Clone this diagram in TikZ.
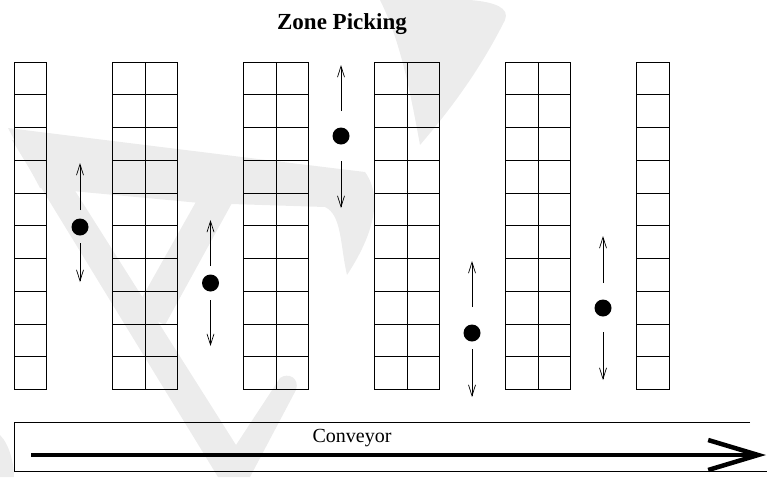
\documentclass[tikz,border=0pt]{standalone}
\usepackage{fontspec}
\setmainfont{Liberation Serif}
\usetikzlibrary{arrows.meta}

\tikzset{
  rack/.style={line width=0.8pt, step=1},
  picker/.style={circle, fill=black, minimum size=17pt, inner sep=0pt},
  move/.style={line width=0.7pt, -{Straight Barb[length=11pt,width=7pt]}},
  belt/.style={line width=4.5pt, -{Straight Barb[length=50pt,width=30pt]}},
  wmark/.style={fill=gray!15}
}

\begin{document}
\begin{tikzpicture}[x=1pt,y=-1pt]
\path[use as bounding box] (0,0) rectangle (767,477);

% watermark in the background
\fill[wmark] (8,128) -- (250,158) -- (365,172)
  .. controls (385,200) and (370,240) .. (347,275)
  .. controls (340,245) and (342,215) .. (325,207) -- (200,203) -- (40,188) -- cycle;
\fill[wmark] (12,140) -- (48,148) -- (236,445) -- (280,378)
  .. controls (288,372) and (300,378) .. (296,390) -- (250,477) -- (218,477) -- cycle;
\fill[wmark] (197,200) -- (232,203) -- (165,325) -- (135,310) -- cycle;
\fill[wmark] (380,0) -- (470,0) .. controls (495,2) and (510,8) .. (505,20)
  .. controls (480,70) and (450,110) .. (420,145)
  .. controls (410,90) and (400,40) .. cycle;
\fill[wmark] (0,435) .. controls (10,445) and (14,465) .. (14,477) -- (0,477) -- cycle;

\node[anchor=base, font=\fontsize{23}{27}\selectfont\bfseries] (title) at (342,29) {Zone Picking};

% racks, one unit = one shelf cell
\begin{scope}[shift={(14,389.5)}, x=32.75pt, y=32.75pt]
  \draw[rack] (0,0) grid (1,10);
  \foreach \x in {3,7,11,15}{
    \draw[rack] (\x,0) grid ++(2,10);
  }
  \draw[rack] (19,0) grid (20,10);
\end{scope}

% pickers in the aisles
\foreach \n/\x/\y/\ua/\ut/\da/\dt in {1/80/227/17/64/16/55, 2/210.5/283/17/63/17/63,
    3/341/136/25/71/25/72, 4/472/333/26/72/16/64, 5/603/308/25/72/24/72}{
  \node[picker] (p\n) at (\x,\y) {};
  \draw[move] ([yshift=\ua]p\n.center) -- ([yshift=\ut]p\n.center);
  \draw[move] ([yshift=-\da]p\n.center) -- ([yshift=-\dt]p\n.center);
}

% conveyor
\draw[line width=0.8pt] (750,422.7) -| (14.3,471) -- (767,471);
\node[anchor=base, font=\fontsize{20}{24}\selectfont] (conv) at (352,442) {Conveyor};
\coordinate (beltA) at (31,455);
\coordinate (beltB) at (766,455);
\draw[belt] (beltA) -- (beltB);
\end{tikzpicture}
\end{document}
